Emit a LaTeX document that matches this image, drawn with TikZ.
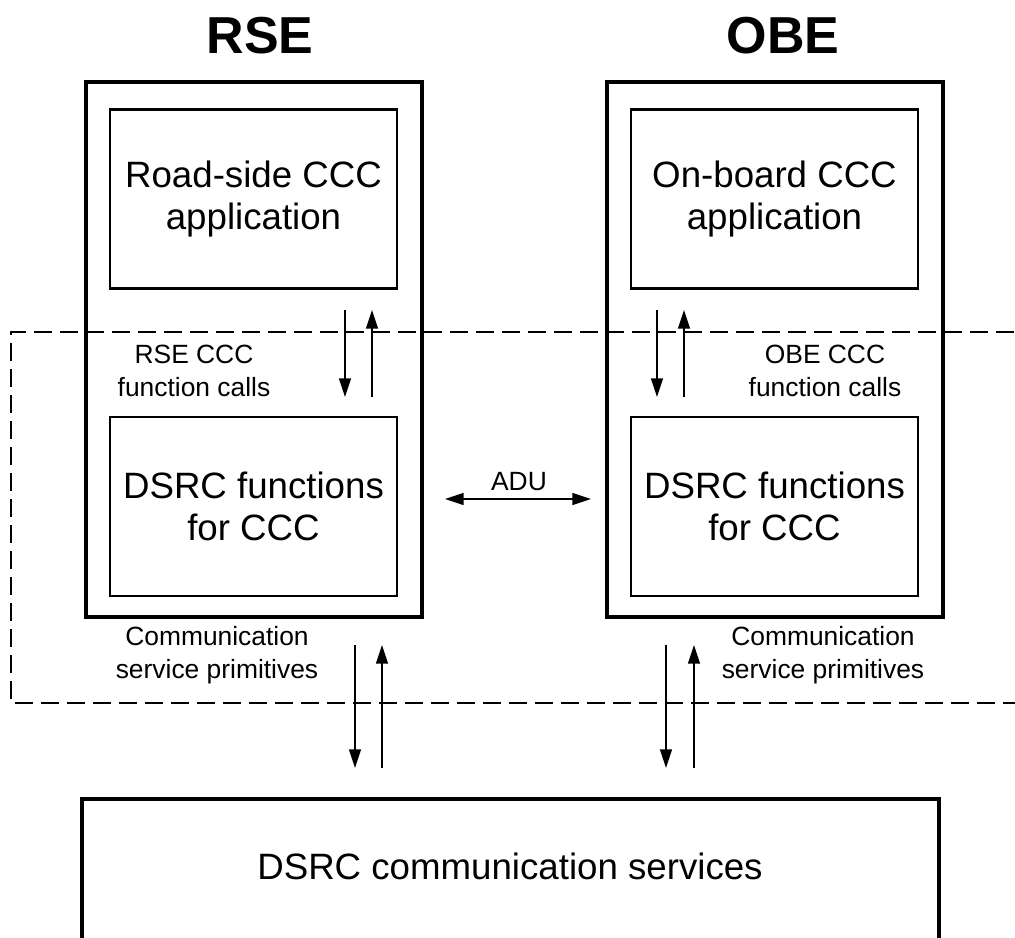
\documentclass[tikz,border=0pt]{standalone}
\usepackage{fontspec}
\setmainfont{Liberation Sans}
\usetikzlibrary{arrows.meta}
\begin{document}
\begin{tikzpicture}[x=0.75pt,y=-0.75pt,
  outerbox/.style={draw,line width=2.7pt,minimum width=252pt,minimum height=401.25pt,inner sep=0pt},
  innerbox/.style={draw,line width=1.8pt,minimum width=215.25pt,minimum height=134pt,inner sep=0pt,
    align=center,font=\fontsize{27.5pt}{31.5pt}\selectfont},
  bottombox/.style={draw,line width=2.7pt,minimum width=642.75pt,minimum height=200pt,inner sep=0pt},
  bigtext/.style={font=\fontsize{27.5pt}{31.5pt}\selectfont},
  title/.style={font=\bfseries\fontsize{39pt}{42pt}\selectfont},
  lbl/.style={align=center,inner sep=0pt,font=\fontsize{19.8pt}{24.3pt}\selectfont},
  adulbl/.style={inner sep=0pt,font=\fontsize{19.8pt}{22pt}\selectfont},
  arr/.style={line width=1.1pt,-{Triangle[length=14pt,width=9pt]}},
  darr/.style={line width=1.1pt,{Triangle[length=14pt,width=9pt]}-{Triangle[length=14pt,width=9pt]}},
  dashbox/.style={draw,line width=0.9pt,dash pattern=on 13.5pt off 6pt}]
\useasboundingbox (0,0) rectangle (1015,938);
\clip (0,0) rectangle (1015,938);

% dashed region
\draw[dashbox] (1040,332) -- (11,332) -- (11,703) -- (1040,703);

% titles
\node[title] (rsetitle) at (260,36) {RSE};
\node[title] (obetitle) at (783,36) {OBE};

% RSE
\node[outerbox] (rse) at (254,349.5) {};
\node[innerbox] (rsapp) at (253.5,199) {Road-side CCC\\application};
\node[innerbox] (rsfun) at (253.5,506.5) {DSRC functions\\for CCC};

% OBE
\node[outerbox] (obe) at (775,349.5) {};
\node[innerbox] (obapp) at (774.5,199) {On-board CCC\\application};
\node[innerbox] (obfun) at (774.5,506.5) {DSRC functions\\for CCC};

% bottom
\node[bottombox,anchor=north] (comm) at (510.5,797) {};
\node[bigtext] (commtxt) at (510,866) {DSRC communication services};

% labels
\node[lbl] (rsecalls) at (194,371) {RSE CCC\\function calls};
\node[lbl] (obecalls) at (825,371) {OBE CCC\\function calls};
\node[lbl] (rsprim) at (217,655) {Communication\\service primitives};
\node[lbl] (obprim) at (823,655) {Communication\\service primitives};
\node[adulbl] (adu) at (519,482) {ADU};

% arrow end coordinates
\coordinate (ra1) at (345,310); \coordinate (ra2) at (345,397);
\coordinate (rb1) at (372,397); \coordinate (rb2) at (372,310);
\coordinate (oa1) at (657,310); \coordinate (oa2) at (657,397);
\coordinate (ob1) at (684,397); \coordinate (ob2) at (684,310);
\coordinate (rc1) at (355,645); \coordinate (rc2) at (355,768);
\coordinate (rd1) at (382,768); \coordinate (rd2) at (382,645);
\coordinate (oc1) at (666,645); \coordinate (oc2) at (666,768);
\coordinate (od1) at (694,768); \coordinate (od2) at (694,645);
\coordinate (adul) at (445,499); \coordinate (adur) at (591,499);

\draw[arr] (ra1) -- (ra2);
\draw[arr] (rb1) -- (rb2);
\draw[arr] (oa1) -- (oa2);
\draw[arr] (ob1) -- (ob2);
\draw[arr] (rc1) -- (rc2);
\draw[arr] (rd1) -- (rd2);
\draw[arr] (oc1) -- (oc2);
\draw[arr] (od1) -- (od2);
\draw[darr] (adul) -- (adur);
\end{tikzpicture}
\end{document}
